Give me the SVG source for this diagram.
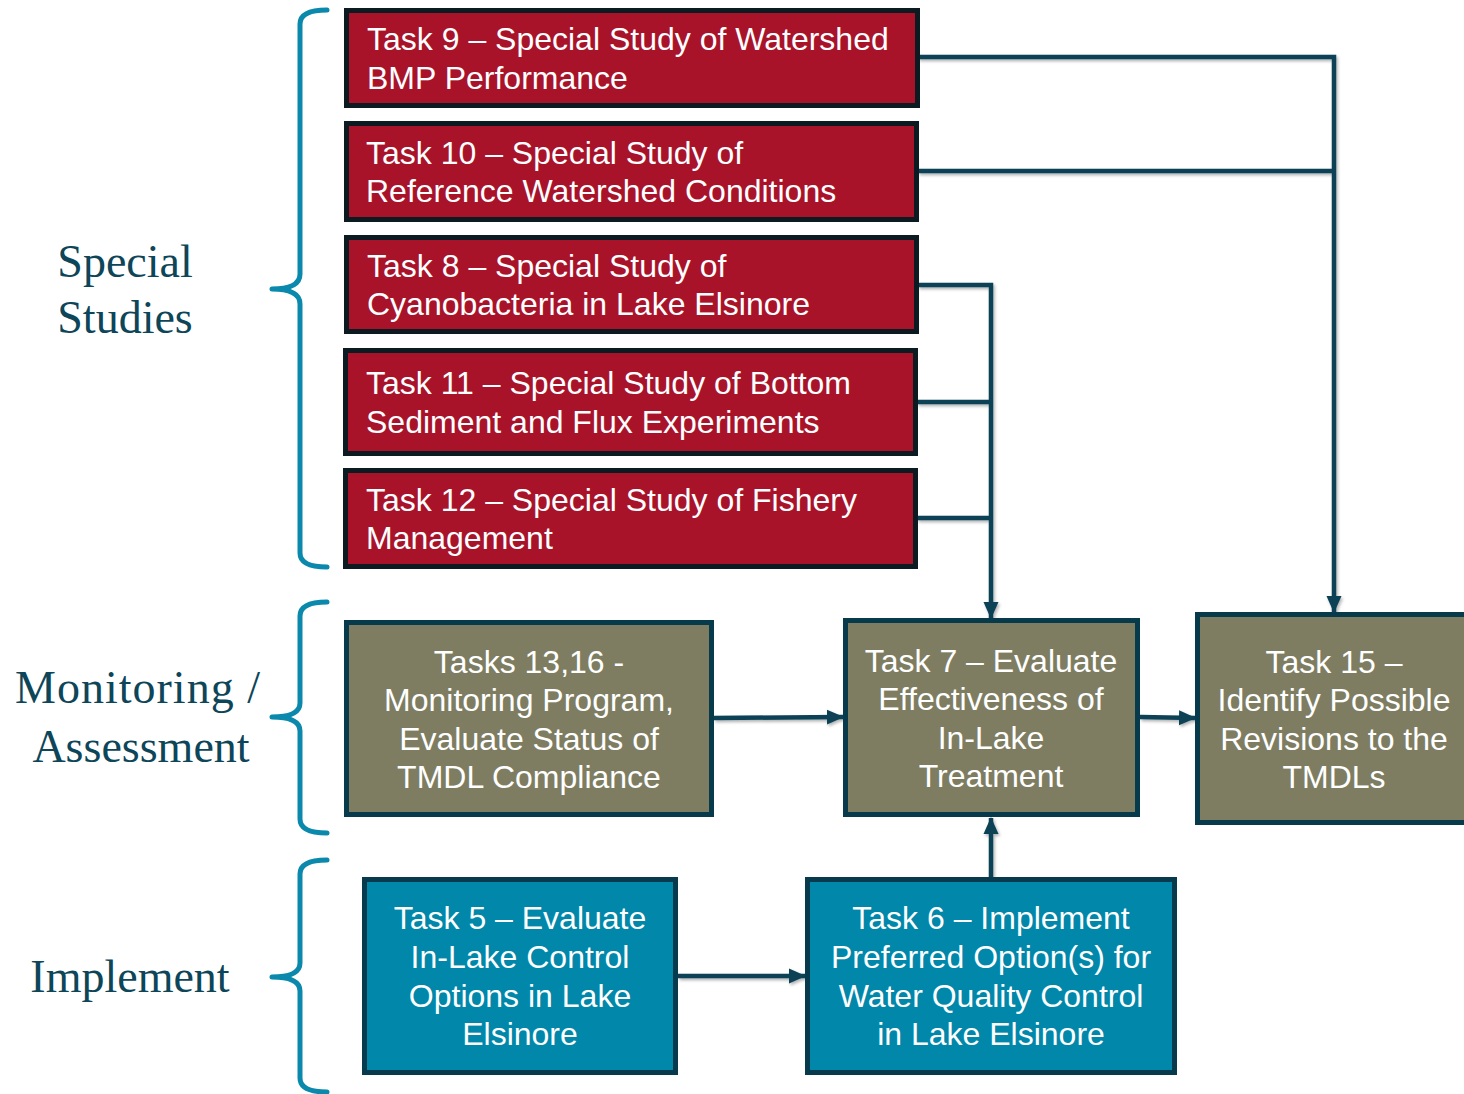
<svg xmlns="http://www.w3.org/2000/svg" width="1464" height="1094" viewBox="0 0 1464 1094">
<defs>
<style>
.red{fill:#A8132A;stroke:#0C1A22;stroke-width:5}
.olive{fill:#7E7D61;stroke:#073A4B;stroke-width:5}
.teal{fill:#0087AA;stroke:#063A4C;stroke-width:5}
.t{font-family:"Liberation Sans",Arial,sans-serif;font-size:32px;fill:#FFFFFF}
.c{text-anchor:middle}
.lbl{font-family:"Liberation Serif","Times New Roman",serif;font-size:46px;fill:#0D4559;text-anchor:middle}
.brace{fill:none;stroke:#0A89AC;stroke-width:5;stroke-linecap:round;stroke-linejoin:round}
.conn{fill:none;stroke:#0B4257;stroke-width:4.5;stroke-linejoin:miter}
</style>
<marker id="arr" markerWidth="18" markerHeight="18" viewBox="0 0 18 18" refX="16" refY="9" orient="auto" markerUnits="userSpaceOnUse">
<path d="M0,1.5 L17,9 L0,16.5 Z" fill="#0B4257"/>
</marker>
<filter id="sh" x="-5%" y="-5%" width="110%" height="110%">
<feDropShadow dx="1.5" dy="2" stdDeviation="1.5" flood-color="#000" flood-opacity="0.3"/>
</filter>
</defs>
<rect width="1464" height="1094" fill="#FFFFFF"/>

<g id="labels">
<g id="label-special">
<path class="brace" d="M327,10 Q300,10 300,24 L300,274 Q300,289 272,289 Q300,289 300,304 L300,553 Q300,567 327,567"/>
<text class="lbl" x="125" y="277">Special</text>
<text class="lbl" x="125" y="333">Studies</text>
</g>
<g id="label-monitoring">
<path class="brace" d="M327,602 Q300,602 300,616 L300,703 Q300,717 272,717 Q300,717 300,731 L300,819 Q300,833 327,833"/>
<text class="lbl" x="138" y="703" letter-spacing="1">Monitoring /</text>
<text class="lbl" x="141" y="762">Assessment</text>
</g>
<g id="label-implement">
<path class="brace" d="M327,860 Q300,860 300,874 L300,963 Q300,977 272,977 Q300,977 300,991 L300,1078 Q300,1092 327,1092"/>
<text class="lbl" x="130" y="992">Implement</text>
</g>
</g>

<g id="connectors" filter="url(#sh)">
<path class="conn" d="M918,57 L1334,57 L1334,612" marker-end="url(#arr)"/>
<path class="conn" d="M918,171 L1334,171"/>
<path class="conn" d="M918,285 L991,285 L991,618" marker-end="url(#arr)"/>
<path class="conn" d="M917,402 L991,402"/>
<path class="conn" d="M917,518 L991,518"/>
<path class="conn" d="M714,718 L843,717" marker-end="url(#arr)"/>
<path class="conn" d="M1140,717 L1195,718" marker-end="url(#arr)"/>
<path class="conn" d="M991,877 L991,818" marker-end="url(#arr)"/>
<path class="conn" d="M678,976 L805,976" marker-end="url(#arr)"/>
</g>

<g id="task9">
<rect class="red" x="346.5" y="10.5" width="571" height="95"/>
<text class="t" x="367" y="50">Task 9 – Special Study of Watershed</text>
<text class="t" x="367" y="89">BMP Performance</text>
</g>
<g id="task10">
<rect class="red" x="346.5" y="123.5" width="570" height="96"/>
<text class="t" x="366" y="164">Task 10 – Special Study of</text>
<text class="t" x="366" y="202">Reference Watershed Conditions</text>
</g>
<g id="task8">
<rect class="red" x="346.5" y="237.5" width="570" height="94"/>
<text class="t" x="367" y="277">Task 8 – Special Study of</text>
<text class="t" x="367" y="315">Cyanobacteria in Lake Elsinore</text>
</g>
<g id="task11">
<rect class="red" x="345.5" y="350.5" width="570" height="103"/>
<text class="t" x="366" y="394">Task 11 – Special Study of Bottom</text>
<text class="t" x="366" y="433">Sediment and Flux Experiments</text>
</g>
<g id="task12">
<rect class="red" x="345.5" y="470.5" width="570" height="96"/>
<text class="t" x="366" y="511">Task 12 – Special Study of Fishery</text>
<text class="t" x="366" y="549">Management</text>
</g>

<g id="tasks13-16">
<rect class="olive" x="346.5" y="622.5" width="365" height="192"/>
<text class="t c" x="529" y="673">Tasks 13,16 -</text>
<text class="t c" x="529" y="711">Monitoring Program,</text>
<text class="t c" x="529" y="750">Evaluate Status of</text>
<text class="t c" x="529" y="788">TMDL Compliance</text>
</g>
<g id="task7">
<rect class="olive" x="845.5" y="620.5" width="292" height="194"/>
<text class="t c" x="991" y="672">Task 7 – Evaluate</text>
<text class="t c" x="991" y="710">Effectiveness of</text>
<text class="t c" x="991" y="749">In-Lake</text>
<text class="t c" x="991" y="787">Treatment</text>
</g>
<g id="task15">
<rect class="olive" x="1197.5" y="614.5" width="280" height="208"/>
<text class="t c" x="1334" y="673">Task 15 –</text>
<text class="t c" x="1334" y="711">Identify Possible</text>
<text class="t c" x="1334" y="750">Revisions to the</text>
<text class="t c" x="1334" y="788">TMDLs</text>
</g>

<g id="task5">
<rect class="teal" x="364.5" y="879.5" width="311" height="193"/>
<text class="t c" x="520" y="929">Task 5 – Evaluate</text>
<text class="t c" x="520" y="968">In-Lake Control</text>
<text class="t c" x="520" y="1007">Options in Lake</text>
<text class="t c" x="520" y="1045">Elsinore</text>
</g>
<g id="task6">
<rect class="teal" x="807.5" y="879.5" width="367" height="193"/>
<text class="t c" x="991" y="929">Task 6 – Implement</text>
<text class="t c" x="991" y="968">Preferred Option(s) for</text>
<text class="t c" x="991" y="1007">Water Quality Control</text>
<text class="t c" x="991" y="1045">in Lake Elsinore</text>
</g>
</svg>
